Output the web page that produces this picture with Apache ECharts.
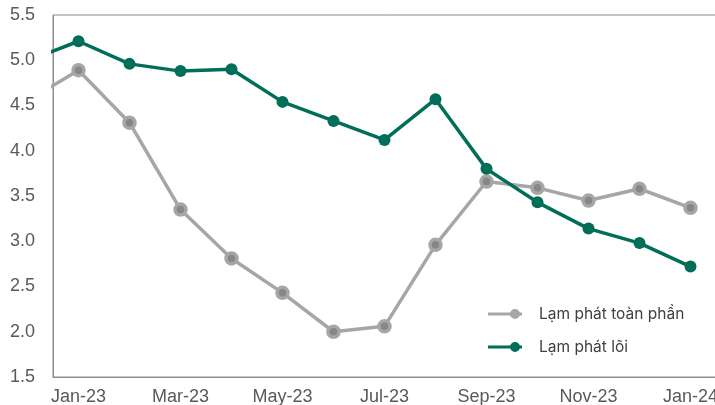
<!DOCTYPE html>
<html><head><meta charset="utf-8">
<script src="https://cdn.jsdelivr.net/npm/echarts@6/dist/echarts.min.js"></script>
<style>html,body{margin:0;padding:0;background:#fff}#c{width:715px;height:405px}</style>
</head><body><div id="c"></div>
<script>
const categories = ['Dec-22','Jan-23','Feb-23','Mar-23','Apr-23','May-23','Jun-23','Jul-23','Aug-23','Sep-23','Oct-23','Nov-23','Dec-23','Jan-24'];
const headline = [4.55, 4.89, 4.31, 3.35, 2.81, 2.43, 2.00, 2.06, 2.96, 3.66, 3.59, 3.45, 3.58, 3.37];
const core = [4.99, 5.21, 4.96, 4.88, 4.90, 4.54, 4.33, 4.12, 4.57, 3.80, 3.43, 3.14, 2.98, 2.72];
const yTicks = [1.5, 2.0, 2.5, 3.0, 3.5, 4.0, 4.5, 5.0, 5.5];
const xLabelIdx = [1, 3, 5, 7, 9, 11, 13];
const seriesNames = ['Lạm phát toàn phần', 'Lạm phát lõi'];

const GRAY = '#a6a6a6', GREEN = '#006e58';
const legendIcon = 'path://M0,3.6 L34,3.6 L34,6.4 L0,6.4 Z M22,5 a5,5 0 1,1 10,0 a5,5 0 1,1 -10,0 Z';
const toPts = arr => arr.map((v, i) => [i - 1, v]);
const chart = echarts.init(document.getElementById('c'));
chart.setOption({
  animation: false,
  grid: { left: 53, top: 15, width: 663, bottom: 28, show: true, borderColor: '#8c8c8c', borderWidth: 1,
          containLabel: false, outerBoundsMode: 'none' },
  xAxis: {
    type: 'value', min: -0.5, max: 12.5,
    splitLine: { show: false },
    axisLine: { show: true, onZero: false, lineStyle: { color: '#8c8c8c' } },
    axisTick: { show: false },
    axisLabel: {
      customValues: xLabelIdx.map(i => i - 1),
      formatter: v => categories[Math.round(v) + 1] || '',
      color: '#595959', fontFamily: 'Liberation Sans', fontSize: 18, margin: 11,
      hideOverlap: false
    }
  },
  yAxis: {
    type: 'value', min: yTicks[0], max: yTicks[yTicks.length - 1], interval: 0.5,
    splitLine: { show: false },
    axisLine: { show: true, onZero: false, lineStyle: { color: '#8c8c8c' } },
    axisTick: { show: false },
    axisLabel: { formatter: v => v.toFixed(1), color: '#595959', fontFamily: 'Liberation Sans', fontSize: 18, margin: 18 }
  },
  legend: {
    orient: 'vertical', left: 483, top: 301, itemWidth: 34, itemHeight: 10, itemGap: 17,
    textStyle: { fontFamily: 'Inter', fontSize: 15.5, color: '#404040', padding: [0, 0, 0, 12] },
    data: [
      { name: seriesNames[0], icon: legendIcon, itemStyle: { color: GRAY, borderWidth: 0 } },
      { name: seriesNames[1], icon: legendIcon, itemStyle: { color: GREEN, borderWidth: 0 } }
    ]
  },
  series: [
    {
      name: seriesNames[0], type: 'line', data: toPts(headline), clip: true,
      symbol: 'circle', symbolSize: 11,
      lineStyle: { color: GRAY, width: 3.5 },
      itemStyle: { color: '#878787', borderColor: GRAY, borderWidth: 3.5 },
      z: 2
    },
    {
      name: seriesNames[1], type: 'line', data: toPts(core), clip: true,
      symbol: 'circle', symbolSize: 12,
      lineStyle: { color: GREEN, width: 3.5 },
      itemStyle: { color: GREEN },
      z: 3
    }
  ]
});
</script></body></html>
